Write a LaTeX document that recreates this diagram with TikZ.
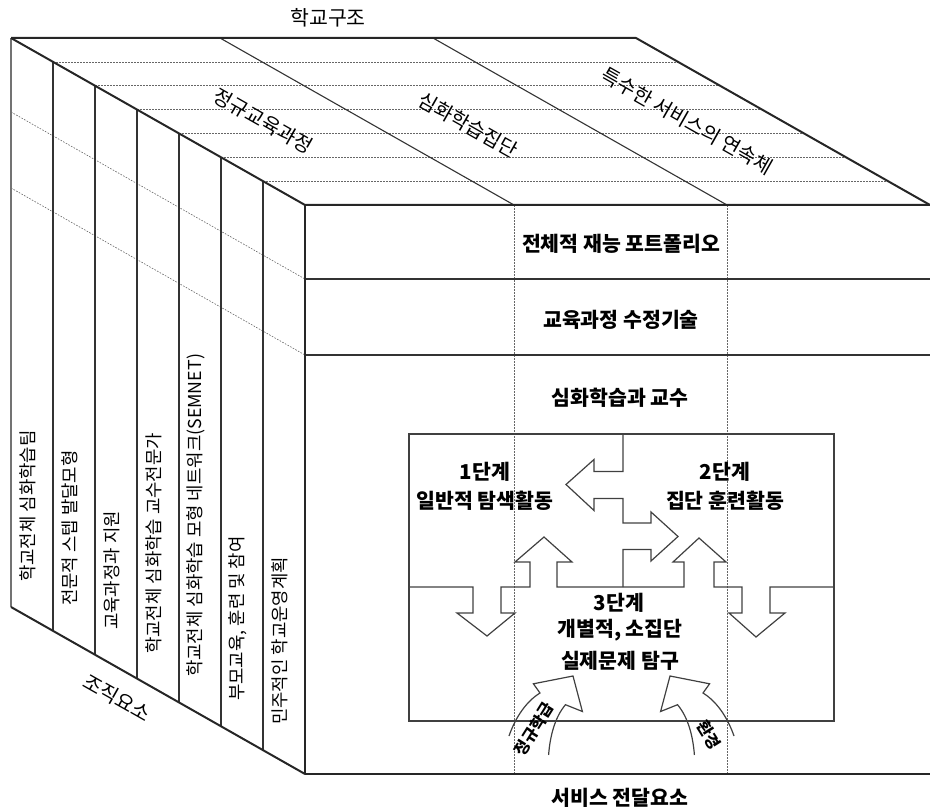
\documentclass[tikz,border=0pt]{standalone}
\usepackage{fontspec}
\setmainfont{Noto Sans CJK KR}
\begin{document}
\begin{tikzpicture}[x=1pt,y=-1pt,
  edge/.style={line width=2pt,line join=round,black!85},
  mid/.style={line width=1.1pt,black!80},
  dotln/.style={line width=0.6pt,dash pattern=on 1.6pt off 1.4pt,black!60},
  box/.style={line width=1.2pt,black!75,line join=miter},
  lbl/.style={font=\fontsize{20.5}{22}\selectfont\bfseries,inner sep=0pt},
  lbln/.style={font=\fontsize{20.5}{22}\selectfont,inner sep=0pt},
  sidelbl/.style={font=\fontsize{17.8}{19}\selectfont,rotate=90,anchor=west,inner sep=0pt},
  toplbl/.style={font=\fontsize{20}{22}\selectfont,rotate=-29.6,inner sep=0pt},
  arrlbl/.style={font=\fontsize{16}{17}\selectfont\bfseries,inner sep=0pt},
]
\useasboundingbox (0,0) rectangle (930,810);

% ---------- top face dotted lines ----------
\foreach \k in {1,...,6}{
  \pgfmathsetmacro\yy{38+167/7*\k}
  \draw[dotln] ({11+42*\k},\yy) -- ({636+42*\k},\yy);
}
% top face dividers
\draw[mid] (220,38) -- (514,205);
\draw[mid] (433,38) -- (727,205);

% ---------- left face ----------
\draw[dotln] (11,112) -- (305,279);
\draw[dotln] (11,188) -- (305,355);
\draw[mid,black!55] (11,38) -- (11,607);
\foreach \k in {1,...,6}{
  \draw[mid] ({11+42*\k},{38+167/7*\k}) -- ({11+42*\k},{607+167/7*\k});
}

% ---------- front face ----------
\draw[dotln] (514,205) -- (514,774);
\draw[dotln] (727,205) -- (727,774);
\draw[mid] (305,279) -- (930,279);
\draw[mid] (305,355) -- (930,355);

% ---------- outer edges ----------
\draw[edge] (11,38) -- (636,38) -- (930,205);
\draw[edge] (11,38) -- (305,205) -- (930,205);
\draw[edge] (305,205) -- (305,774) -- (930,774);
\draw[edge] (11,607) -- (305,774);

% ---------- inner box with stages ----------
\draw[box] (409,434) rectangle (834,721);
% vertical divider with left/right arrows
\draw[box] (623,434) -- (623,471.5) -- (594,471.5) -- (594,459.5) -- (566,484.5)
  -- (594,510.5) -- (594,498.5) -- (623,498.5) -- (623,523) -- (651,523)
  -- (651,512) -- (678,536.5) -- (651,561) -- (651,549.5) -- (623,549.5) -- (623,587);
% horizontal divider with up/down arrows
\draw[box] (409,587) -- (473,587) -- (473,613) -- (457,613) -- (487,636)
  -- (515,613) -- (501,613) -- (501,587) -- (530,587) -- (530,562) -- (515,562)
  -- (544,537) -- (572,562) -- (557,562) -- (557,587) -- (684,587) -- (684,562)
  -- (673,562) -- (699,538) -- (726,562) -- (714,562) -- (714,587) -- (742,587)
  -- (742,613) -- (729,613) -- (756,637) -- (785,613) -- (770,613) -- (770,587)
  -- (834,587);

% curved arrows
\draw[box] (509,736) .. controls (516,716) and (527,701) .. (540,693)
  -- (533.4,683.8) -- (573,676) -- (582.4,711.5) -- (565.5,704.7)
  .. controls (555,717) and (550,736) .. (548.6,755);
\draw[box] (734,736) .. controls (727,716) and (716,701) .. (703,693)
  -- (709.6,683.8) -- (670,676) -- (660.6,711.5) -- (677.5,704.7)
  .. controls (688,717) and (693,736) .. (694.4,755);
\node[arrlbl,rotate=58] (a1) at (534,729) {정규학급};
\node[arrlbl,rotate=-58] (a2) at (709,735) {환경};

% ---------- labels ----------
\node[lbln] (title) at (328,18) {학교구조};
\node[toplbl] (t1) at (263,121) {정규교육과정};
\node[toplbl] (t2) at (468,125) {심화학습집단};
\node[toplbl] (t3) at (687,121) {특수한 서비스의 연속체};

\node[sidelbl] (s1) at (28,582) {학교전체 심화학습팀};
\node[sidelbl] (s2) at (70,606) {전문적 스텝 발달모형};
\node[sidelbl] (s3) at (112,630) {교육과정과 지원};
\node[sidelbl] (s4) at (154,654) {학교전체 심화학습 교수전문가};
\node[sidelbl] (s5) at (196,677) {학교전체 심화학습 모형 네트워크(SEMNET)};
\node[sidelbl] (s6) at (238,701) {부모교육, 훈련 및 참여};
\node[sidelbl] (s7) at (280,725) {민주적인 학교운영계획};
\node[toplbl] (org) at (117,698) {조직요소};

\node[lbl] (f1) at (621,244) {전체적 재능 포트폴리오};
\node[lbl] (f2) at (621,320) {교육과정 수정기술};
\node[lbl] (f3) at (620,398) {심화학습과 교수};

\node[lbl] (st1) at (485,472) {1단계};
\node[lbl] (st1b) at (485,501) {일반적 탐색활동};
\node[lbl] (st2) at (725,472) {2단계};
\node[lbl] (st2b) at (725,501) {집단 훈련활동};
\node[lbl] (st3) at (619,603) {3단계};
\node[lbl] (st3b) at (620,630) {개별적, 소집단};
\node[lbl] (st3c) at (620,661) {실제문제 탐구};

\node[lbl] (bottom) at (620,798) {서비스 전달요소};
\end{tikzpicture}
\end{document}
